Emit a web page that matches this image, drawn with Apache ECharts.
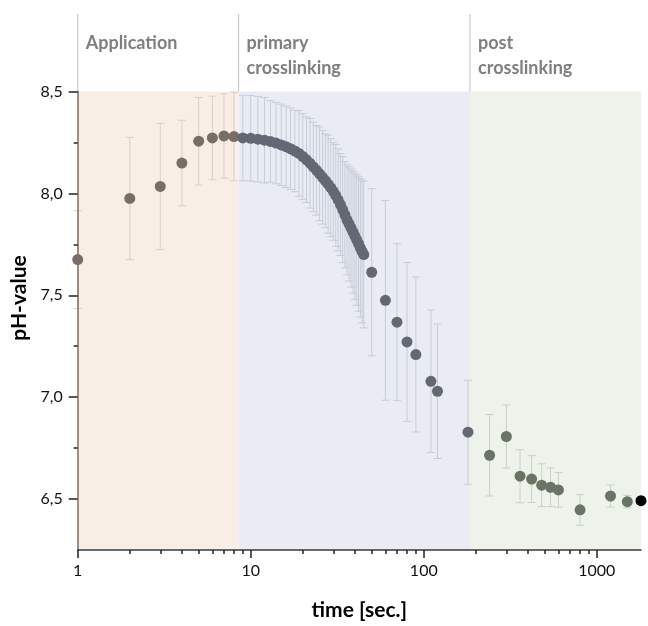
<!DOCTYPE html>
<html>
<head>
<meta charset="utf-8">
<script src="https://cdn.jsdelivr.net/npm/echarts@6/dist/echarts.min.js"></script>
<style>
  html, body { margin: 0; padding: 0; background: #fff; }
  #chart { width: 648px; height: 626px; }
</style>
</head>
<body>
<div id="chart"></div>
<script>
// Phases of the process (seconds)
const phaseStart = [1, 8.5, 185];
const phaseEnd = [8.5, 185, 1800];
const phaseNames = ['Application', 'primary\ncrosslinking', 'post\ncrosslinking'];

// Application phase
const timeApp = [1, 2, 3, 4, 5, 6, 7, 8];
const phApp = [7.675, 7.975, 8.034, 8.149, 8.256, 8.272, 8.282, 8.279];
const errApp = [0.24, 0.30, 0.31, 0.21, 0.215, 0.205, 0.207, 0.217];

// Primary crosslinking phase
const timePrimary = [9, 10, 11, 12, 13, 14, 15, 16, 17, 18, 19, 20, 21, 22, 23, 24, 25, 26, 27, 28, 29,
  30, 31, 32, 33, 34, 35, 36, 37, 38, 39, 40, 41, 42, 43, 44, 45, 50, 60, 70, 80, 90, 110, 120, 180];
const phPrimary = [8.272, 8.270, 8.266, 8.261, 8.255, 8.247, 8.238, 8.229, 8.219, 8.208, 8.196, 8.181,
  8.165, 8.148, 8.130, 8.113, 8.096, 8.079, 8.062, 8.045, 8.028, 8.010, 7.990, 7.968, 7.945, 7.920,
  7.895, 7.870, 7.850, 7.830, 7.810, 7.790, 7.771, 7.752, 7.733, 7.715, 7.700,
  7.613, 7.475, 7.368, 7.271, 7.209, 7.078, 7.029, 6.828];
const errPrimary = [0.21, 0.21, 0.21, 0.21, 0.20, 0.20, 0.20, 0.20, 0.20, 0.20, 0.21, 0.21, 0.21, 0.22,
  0.22, 0.22, 0.23, 0.23, 0.23, 0.24, 0.24, 0.24, 0.25, 0.25, 0.25, 0.26, 0.26, 0.27, 0.28, 0.29, 0.30,
  0.31, 0.32, 0.33, 0.34, 0.35, 0.36,
  0.41, 0.49, 0.385, 0.39, 0.38, 0.35, 0.33, 0.255];

// Post crosslinking phase
const timePost = [240, 300, 360, 420, 480, 540, 600, 800, 1200, 1500];
const phPost = [6.715, 6.807, 6.612, 6.598, 6.568, 6.558, 6.545, 6.447, 6.515, 6.487];
const errPost = [0.20, 0.155, 0.13, 0.115, 0.105, 0.095, 0.085, 0.075, 0.054, 0.03];

// Final reading
const timeLast = [1800];
const phLast = [6.492];

// Axis ticks
const xMajorTicks = [1, 10, 100, 1000];
const xMinorTicks = [2, 3, 4, 5, 6, 7, 8, 9, 20, 30, 40, 50, 60, 70, 80, 90, 200, 300, 400, 500, 600, 700, 800, 900];
const yMajorTicks = [6.5, 7.0, 7.5, 8.0, 8.5];
const yMinorTicks = [6.75, 7.25, 7.75, 8.25];

const Y_MIN = 6.25, Y_MAX = 8.5;

const phaseFill = ['#f9eee5', '#e9edf3', '#edf3ea'];
const markerColor = ['#7a6d65', '#646774', '#6a7465'];
const barColor = ['#dccdc4', '#c7cbd8', '#c8d0c2'];

function zipPoints(t, v, e) {
  return t.map((x, i) => e ? [x, v[i], e[i]] : [x, v[i]]);
}

function errorBarRender(params, api) {
  const x = api.value(0), y = api.value(1), e = api.value(2);
  if (!e) return null;
  const top = api.coord([x, y + e]);
  const bot = api.coord([x, y - e]);
  const w = 4;
  const style = { stroke: api.visual('color'), lineWidth: 1 };
  return {
    type: 'group',
    children: [
      { type: 'line', shape: { x1: top[0], y1: top[1], x2: bot[0], y2: bot[1] }, style },
      { type: 'line', shape: { x1: top[0] - w, y1: top[1], x2: top[0] + w, y2: top[1] }, style },
      { type: 'line', shape: { x1: bot[0] - w, y1: bot[1], x2: bot[0] + w, y2: bot[1] }, style }
    ]
  };
}

function errorSeries(t, v, e, color) {
  return {
    type: 'custom',
    renderItem: errorBarRender,
    data: zipPoints(t, v, e),
    itemStyle: { color },
    encode: { x: 0, y: 1 },
    clip: false,
    silent: true,
    z: 3
  };
}

function scatterSeries(t, v, color) {
  return {
    type: 'scatter',
    data: zipPoints(t, v),
    symbolSize: 11,
    itemStyle: { color, opacity: 1 },
    clip: false,
    silent: true,
    z: 5
  };
}

const labelFont = { fontFamily: 'Lato', fontSize: 16, color: '#111' };

const option = {
  animation: false,
  backgroundColor: '#ffffff',
  grid: { left: 77.7, right: 7, top: 91.5, bottom: 74.3 },
  xAxis: [
    {
      type: 'log', logBase: 10, min: 1, max: 1800, position: 'bottom', z: 10,
      axisLine: { onZero: false, lineStyle: { color: '#3a3a3a', width: 1.5 } },
      axisTick: { customValues: xMajorTicks, length: 8, lineStyle: { color: '#222', width: 1.5 } },
      axisLabel: Object.assign({ customValues: xMajorTicks, margin: 13, formatter: v => String(v) }, labelFont),
      splitLine: { show: false },
      name: 'time [sec.]', nameLocation: 'middle', nameGap: 50,
      nameTextStyle: { fontFamily: 'Lato', fontWeight: 'bold', fontSize: 21, color: '#000' }
    },
    {
      type: 'log', logBase: 10, min: 1, max: 1800, position: 'bottom', z: 10,
      axisLine: { show: false, onZero: false },
      axisTick: { customValues: xMinorTicks, length: 4, lineStyle: { color: '#222', width: 1.5 } },
      axisLabel: { show: false },
      splitLine: { show: false }
    }
  ],
  yAxis: [
    {
      type: 'value', min: Y_MIN, max: Y_MAX, position: 'left', z: 10,
      axisLine: { show: true, onZero: false, lineStyle: { color: '#7d6f66', width: 1.5 } },
      axisTick: { show: true, customValues: yMajorTicks, length: 9, lineStyle: { color: '#222', width: 1.5 } },
      axisLabel: Object.assign({ customValues: yMajorTicks, margin: 15,
        formatter: v => v.toFixed(1).replace('.', ',') }, labelFont),
      splitLine: { show: false }
    },
    {
      type: 'value', min: Y_MIN, max: Y_MAX, position: 'left', z: 10,
      axisLine: { show: false, onZero: false },
      axisTick: { show: true, customValues: yMinorTicks, length: 4, lineStyle: { color: '#222', width: 1.5 } },
      axisLabel: { show: false },
      splitLine: { show: false }
    }
  ],
  graphic: [
    {
      type: 'text', x: 19, y: 298, rotation: Math.PI / 2,
      style: { text: 'pH-value', font: 'bold 21px Lato', fill: '#000', align: 'center', verticalAlign: 'middle' }
    }
  ],
  series: [
    {
      // phase shading, separators and headers
      type: 'custom',
      data: phaseStart.map((s, i) => [s, Y_MAX, i]),
      encode: { x: 0, y: 1 },
      clip: false,
      silent: true,
      z: 1,
      renderItem: (params, api) => {
        const i = params.dataIndex;
        const p = api.coord([phaseStart[i], Y_MAX]);
        return {
          type: 'group',
          children: [
            { type: 'line', shape: { x1: p[0], y1: p[1], x2: p[0], y2: 14 },
              style: { stroke: '#c9c9c9', lineWidth: 1.2 } },
            { type: 'text', x: p[0] + 8, y: 31,
              style: { text: phaseNames[i], font: 'bold 18px Lato', fill: '#7f7f7f',
                lineHeight: 25, verticalAlign: 'top', align: 'left' } }
          ]
        };
      },
      markArea: {
        silent: true,
        data: phaseStart.map((s, i) => [
          { xAxis: s, itemStyle: { color: phaseFill[i], opacity: 1 } },
          { xAxis: phaseEnd[i] }
        ])
      }
    },
    errorSeries(timeApp, phApp, errApp, barColor[0]),
    errorSeries(timePrimary, phPrimary, errPrimary, barColor[1]),
    errorSeries(timePost, phPost, errPost, barColor[2]),
    scatterSeries(timeApp, phApp, markerColor[0]),
    scatterSeries(timePrimary, phPrimary, markerColor[1]),
    scatterSeries(timePost, phPost, markerColor[2]),
    scatterSeries(timeLast, phLast, '#000000')
  ]
};

const chart = echarts.init(document.getElementById('chart'), null, { renderer: 'canvas' });
chart.setOption(option);
</script>
</body>
</html>
